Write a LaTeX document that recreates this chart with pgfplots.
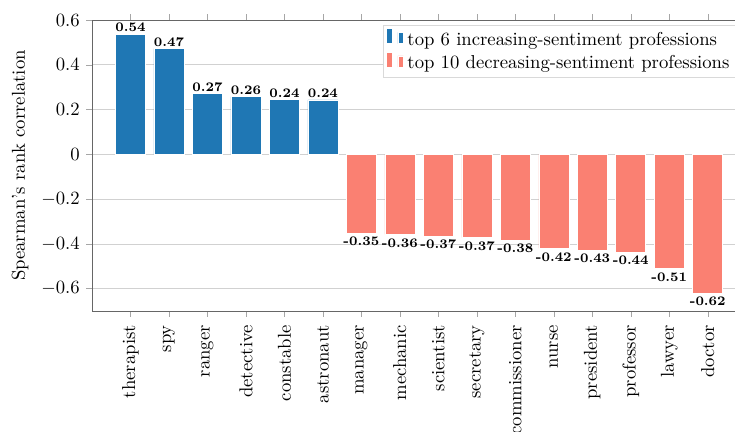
\documentclass[border=0pt]{standalone}
\usepackage{pgfplots}
\pgfplotsset{compat=1.18}
\definecolor{barblue}{HTML}{1F77B4}
\definecolor{barsalmon}{HTML}{FA8072}
\begin{document}
\begin{tikzpicture}
\begin{axis}[
  at={(0,0)}, anchor=south west,
  scale only axis,
  width=350pt, height=155.7pt,
  ybar, bar width=0.78, bar shift=0pt,
  xmin=-1, xmax=16,
  ymin=-0.7, ymax=0.6,
  ytick={-0.6,-0.4,...,0.6},
  ymajorgrids, grid style={black!18},
  xtick={0,...,15},
  xticklabels={therapist,spy,ranger,detective,constable,astronaut,manager,mechanic,scientist,secretary,commissioner,nurse,president,professor,lawyer,doctor},
  x tick label style={rotate=90, anchor=east, xshift=-1pt},
  tick align=outside,
  tick style={black!35},
  major tick length=3pt,
  axis line style={black!60},
  ylabel={Spearman's rank correlation},
  point meta=explicit symbolic,
  nodes near coords={\scriptsize\bfseries\pgfplotspointmeta},
  nodes near coords style={inner sep=1pt},
  legend style={at={(0.985,0.983)}, anchor=north east, draw=black!15, inner sep=1.5pt},
  legend cell align=left,
]
\addplot[fill=barblue, draw=white, line width=0.3pt,
  every node near coord/.append style={anchor=south}] coordinates {
  (0,0.537) [0.54] (1,0.472) [0.47] (2,0.272) [0.27] (3,0.258) [0.26] (4,0.244) [0.24] (5,0.243) [0.24]
};
\addplot[fill=barsalmon, draw=white, line width=0.3pt,
  every node near coord/.append style={anchor=north, yshift=-1pt}] coordinates {
  (6,-0.353) [-0.35] (7,-0.358) [-0.36] (8,-0.365) [-0.37] (9,-0.372) [-0.37] (10,-0.382) [-0.38]
  (11,-0.42) [-0.42] (12,-0.428) [-0.43] (13,-0.436) [-0.44] (14,-0.511) [-0.51] (15,-0.62) [-0.62]
};
\legend{top 6 increasing-sentiment professions, top 10 decreasing-sentiment professions}
\end{axis}
\pgfresetboundingbox
\useasboundingbox (-49.2pt,-64.7pt) rectangle (344.0pt,166.4pt);
\end{tikzpicture}
\end{document}
